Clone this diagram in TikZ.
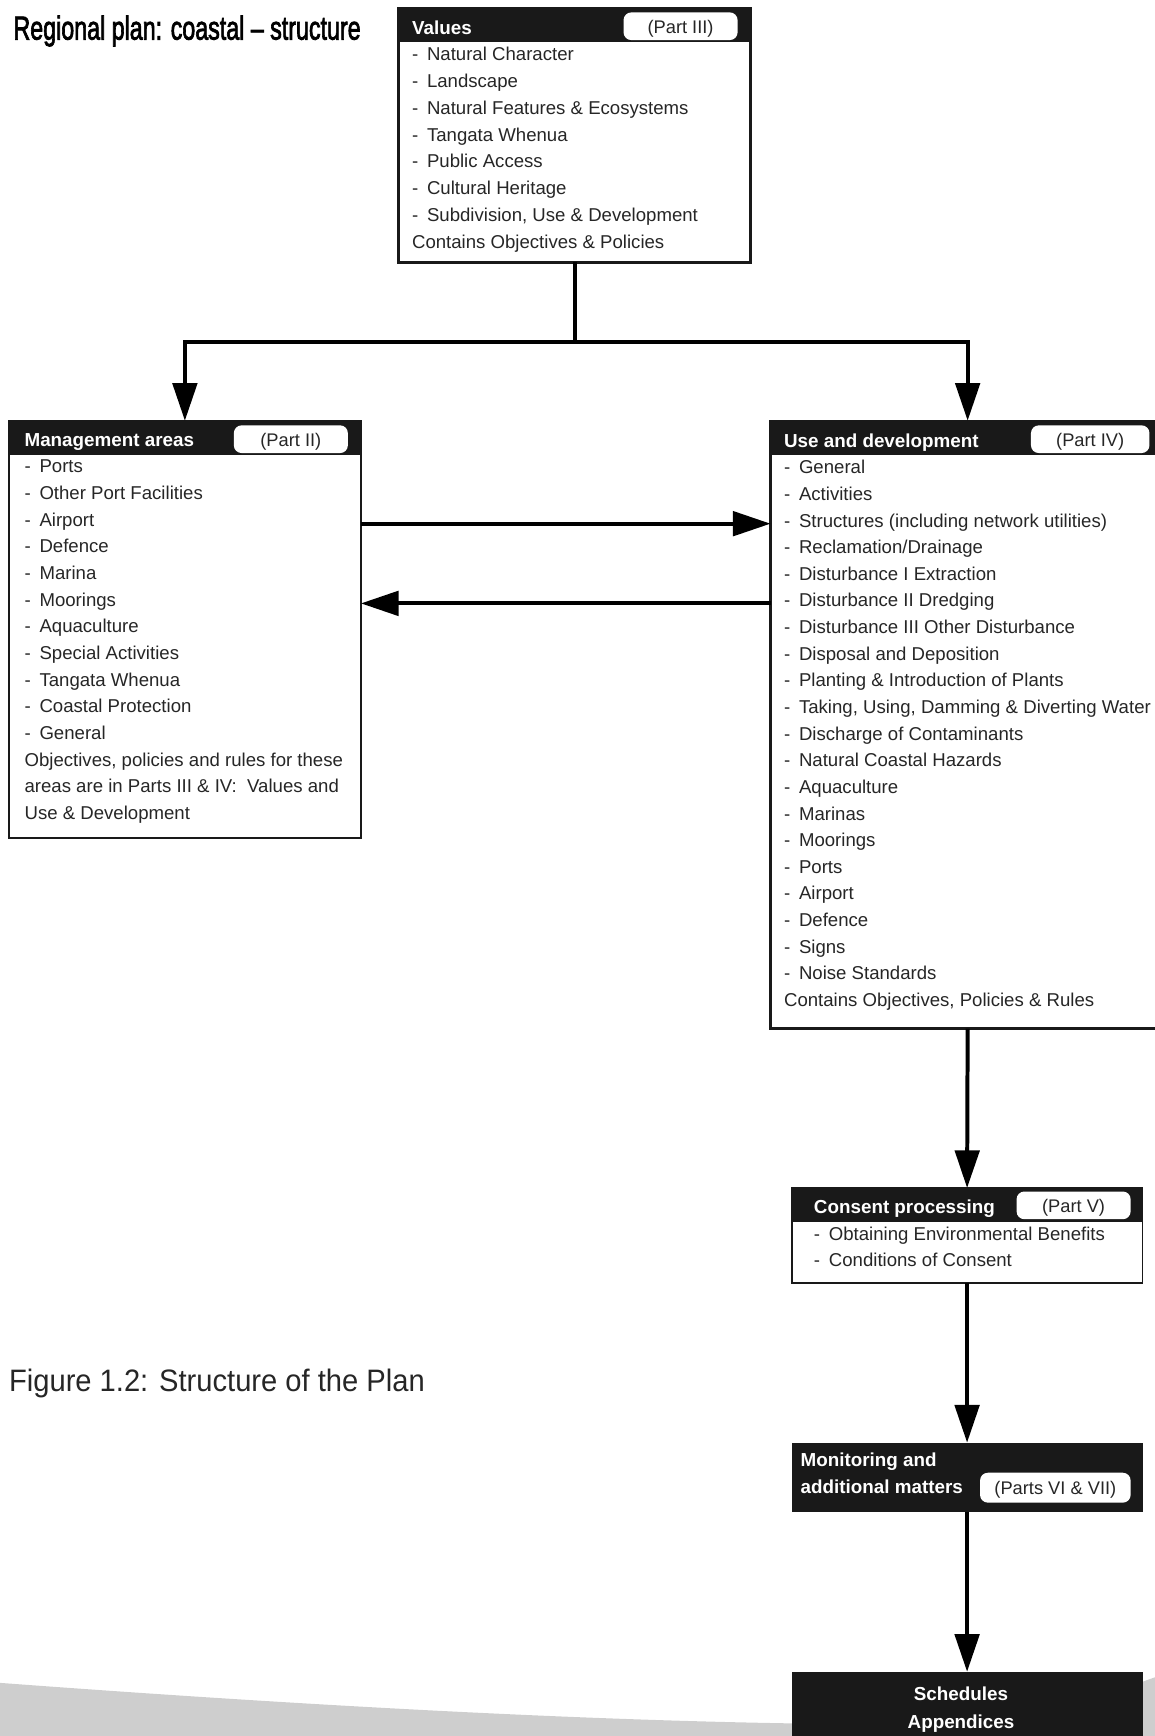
\documentclass[tikz,border=0pt]{standalone}
\usepackage{fontspec}
\setmainfont{Liberation Sans}
\newfontfamily\titlefont[FakeBold=2.6]{Liberation Sans}
\usetikzlibrary{arrows.meta}
\definecolor{swoosh}{RGB}{206,206,206}
\newcommand{\itm}[1]{\makebox[13.5pt][l]{-}#1}

\begin{document}
\begin{tikzpicture}[x=1pt,y=-1pt,line join=miter,
  panel/.style={draw=black!90,line width=2.2pt,anchor=north west,inner sep=0pt,outer sep=0pt},
  headbar/.style={fill=black!90,anchor=north west,inner sep=0pt,outer sep=0pt,minimum height=31pt},
  headtext/.style={text=white,font=\fontsize{17}{20}\selectfont\bfseries,anchor=base west,inner sep=0pt},
  pill/.style={fill=white,rounded corners=7pt,minimum height=25pt,anchor=north west,inner sep=0pt,text height=16pt,text depth=3.4pt,font=\fontsize{16.5}{18}\selectfont,text=black!85},
  item/.style={anchor=base west,inner sep=0pt,font=\fontsize{16.8}{18}\selectfont,text=black!85},
  flow/.style={line width=3.6pt,-{Triangle[length=34pt,width=22pt]}},
  link/.style={line width=3.6pt},
]
\useasboundingbox (0,0) rectangle (1043,1568);
%% background
\fill[swoosh] (0,1568) -- (0,1520) .. controls (350,1546) and (650,1560) .. (870,1557) .. controls (950,1556) and (1000,1530) .. (1043,1515) -- (1043,1568) -- cycle;
%
\node[anchor=west,inner sep=0pt] (title) at (12,28) {\scalebox{0.7}[1]{\fontsize{30}{30}\titlefont Regional plan: coastal – structure}};
\node[anchor=west,inner sep=0pt,text=black!85] (caption) at (8,1250) {\scalebox{0.94}[1]{\fontsize{28}{28}\selectfont Figure 1.2: Structure of the Plan}};
  % Node: values
\node[panel,minimum width=318pt,minimum height=230pt] (values) at (360,7) {};
\node[headbar,minimum width=318pt] (values-head) at (360,7) {};
\node[headtext] (values-title) at (372,31) {Values};
\node[pill,minimum width=103pt] (values-part) at (563,11) {(Part III)};
\foreach \t [count=\i from 0] in {Natural Character,Landscape,Natural Features \& Ecosystems,Tangata Whenua,Public Access,Cultural Heritage,{Subdivision, Use \& Development}}
  \node[item] (values-\i) at (372,55+24.15*\i) {\itm{\t}};
\node[item] (values-note) at (372,224) {Contains Objectives \& Policies};
  % Node: mgmt
\node[panel,minimum width=318pt,minimum height=377pt] (mgmt) at (8,380) {};
\node[headbar,minimum width=318pt] (mgmt-head) at (8,380) {};
\node[headtext] (mgmt-title) at (22,403) {Management areas};
\node[pill,minimum width=103pt] (mgmt-part) at (211,384) {(Part II)};
\foreach \t [count=\i from 0] in {Ports,Other Port Facilities,Airport,Defence,Marina,Moorings,Aquaculture,Special Activities,Tangata Whenua,Coastal Protection,General}
  \node[item] (mgmt-\i) at (22,427+24.08*\i) {\itm{\t}};
\node[item] (mgmt-note1) at (22,692) {Objectives, policies and rules for these};
\node[item] (mgmt-note2) at (22,716) {areas are in Parts III \& IV:\ \ Values and};
\node[item] (mgmt-note3) at (22,740) {Use \& Development};
  % Node: use
\node[panel,minimum width=356pt,minimum height=549pt] (use) at (696,380) {};
\node[headbar,minimum width=356pt] (use-head) at (696,380) {};
\node[headtext] (use-title) at (708,404) {Use and development};
\node[pill,minimum width=107pt] (use-part) at (931,384) {(Part IV)};
\foreach \t [count=\i from 0] in {General,Activities,Structures (including network utilities),Reclamation/Drainage,Disturbance I Extraction,Disturbance II Dredging,Disturbance III Other Disturbance,Disposal and Deposition,Planting \& Introduction of Plants,{Taking, Using, Damming \& Diverting Water},Discharge of Contaminants,Natural Coastal Hazards,Aquaculture,Marinas,Moorings,Ports,Airport,Defence,Signs,Noise Standards}
  \node[item] (use-\i) at (708,428+24.05*\i) {\itm{\t}};
\node[item] (use-note) at (708,909) {Contains Objectives, Policies \& Rules};
  % Node: consent
\node[panel,line width=1.6pt,minimum width=317pt,minimum height=86pt] (consent) at (715,1073) {};
\node[headbar,minimum width=317pt] (consent-head) at (715,1073) {};
\node[headtext] (consent-title) at (735,1096) {Consent processing};
\node[pill,minimum width=103pt] (consent-part) at (918,1076) {(Part V)};
\foreach \t [count=\i from 0] in {Obtaining Environmental Benefits,Conditions of Consent}
  \node[item] (consent-\i) at (735,1120+24.1*\i) {\itm{\t}};
  % Node: monitor
\node[headbar,minimum width=317pt,minimum height=63pt] (monitor) at (715,1303) {};
\node[headtext] (monitor-title1) at (723,1325) {Monitoring and};
\node[headtext] (monitor-title2) at (723,1349) {additional matters};
\node[pill,minimum width=136pt,minimum height=27pt] (monitor-part) at (885,1330) {(Parts VI \& VII)};
  % Node: sched
\node[headbar,minimum width=317pt,minimum height=70pt] (sched) at (715,1510) {};
\node[headtext,anchor=base] (sched-1) at (868,1536) {Schedules};
\node[headtext,anchor=base] (sched-2) at (868,1561) {Appendices};
%%
  % Edge: values -> mgmt, use
\coordinate (split) at (values.south |- 0,309);
\draw[link] (values.south) -- (split);
\draw[flow] (split) -| (mgmt.north);
\draw[flow] (split) -| (use.north);
  % Edge: mgmt <-> use
\coordinate (to-use) at (0,473);
\coordinate (to-mgmt) at (0,545);
\draw[flow] (mgmt.east |- to-use) -- (use.west |- to-use);
\draw[flow] (use.west |- to-mgmt) -- (mgmt.east |- to-mgmt);
  % Edge: use -> consent -> monitor -> sched
\draw[flow] (use.south) -- (consent.north);
\draw[flow] (consent.south) -- (monitor.north);
\draw[flow] (monitor.south) -- (sched.north);
%
\end{tikzpicture}
\end{document}
